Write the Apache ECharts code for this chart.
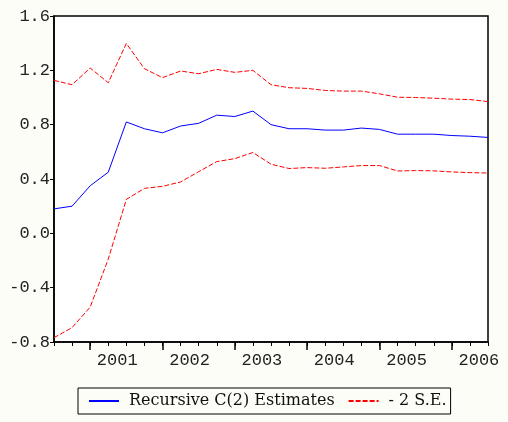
<!DOCTYPE html>
<html>
<head>
<meta charset="utf-8">
<script src="https://cdn.jsdelivr.net/npm/echarts@6/dist/echarts.min.js"></script>
<style>
  html, body { margin: 0; padding: 0; background: #fdfdf7; }
  #chart { width: 508px; height: 422px; }
</style>
</head>
<body>
<div id="chart"></div>
<script>
// Quarterly periods, 2000Q3 .. 2006Q3
const quarters = [
  '2000Q3','2000Q4',
  '2001Q1','2001Q2','2001Q3','2001Q4',
  '2002Q1','2002Q2','2002Q3','2002Q4',
  '2003Q1','2003Q2','2003Q3','2003Q4',
  '2004Q1','2004Q2','2004Q3','2004Q4',
  '2005Q1','2005Q2','2005Q3','2005Q4',
  '2006Q1','2006Q2','2006Q3'
];

// Recursive estimates of coefficient C(2)
const estimates = [
  0.18, 0.20, 0.35, 0.45, 0.82, 0.77, 0.74, 0.79, 0.81, 0.87,
  0.86, 0.90, 0.80, 0.77, 0.77, 0.76, 0.76, 0.775, 0.765, 0.73,
  0.73, 0.73, 0.72, 0.715, 0.706
];

// Upper and lower two-standard-error bands
const upperBand = [
  1.126, 1.094, 1.217, 1.109, 1.398, 1.212, 1.146, 1.195, 1.175, 1.207,
  1.185, 1.200, 1.094, 1.072, 1.067, 1.052, 1.047, 1.047, 1.027, 1.002,
  1.000, 0.995, 0.988, 0.985, 0.970
];
const lowerBand = [
  -0.768, -0.694, -0.543, -0.19, 0.25, 0.331, 0.346, 0.378, 0.454, 0.528,
  0.550, 0.595, 0.509, 0.477, 0.484, 0.479, 0.489, 0.499, 0.499, 0.459,
  0.462, 0.460, 0.452, 0.447, 0.444
];

const yMin = -0.8, yMax = 1.6, yStep = 0.4;
const seriesNames = ['Recursive C(2) Estimates', '- 2 S.E.'];

const axisFont = 'Liberation Mono';
const chart = echarts.init(document.getElementById('chart'), null, { renderer: 'canvas' });

chart.setOption({
  backgroundColor: '#fdfdf7',
  animation: false,
  grid: {
    left: 54, right: 20, top: 16, bottom: 80,
    show: true, backgroundColor: '#ffffff',
    borderColor: '#000000', borderWidth: 1.5
  },
  legend: {
    left: 78, top: 388,
    data: seriesNames,
    selectedMode: false,
    borderColor: '#000000', borderWidth: 1,
    padding: [5, 4, 5, 10],
    itemWidth: 30, itemHeight: 10, itemGap: 13,
    itemStyle: { opacity: 0 },
    textStyle: { fontFamily: 'DejaVu Serif', fontSize: 16, color: '#111', padding: [0, 0, 0, 5] }
  },
  xAxis: [
    {
      type: 'category',
      data: quarters,
      boundaryGap: false,
      position: 'bottom',
      axisLine: { onZero: false, lineStyle: { color: '#000', width: 1.5 } },
      axisTick: { interval: 0, length: 4, lineStyle: { color: '#000', width: 1 } },
      axisLabel: {
        interval: (i, v) => v.endsWith('Q2'),
        formatter: v => v.slice(0, 4),
        align: 'center',
        padding: [0, 0, 0, 18],
        margin: 10,
        fontFamily: axisFont, fontSize: 17, color: '#222'
      },
      splitLine: { show: false }
    },
    {
      // longer ticks at the start of each year
      type: 'category',
      data: quarters,
      boundaryGap: false,
      position: 'bottom',
      offset: 0,
      axisLine: { show: false, onZero: false },
      axisTick: { interval: (i, v) => v.endsWith('Q1'), length: 8, lineStyle: { color: '#000', width: 1.5 } },
      axisLabel: { show: false },
      splitLine: { show: false }
    }
  ],
  yAxis: {
    type: 'value',
    min: yMin, max: yMax, interval: yStep,
    axisLine: { show: true, lineStyle: { color: '#000', width: 1.5 } },
    axisTick: { show: true, length: 4, lineStyle: { color: '#000' } },
    axisLabel: {
      margin: 4,
      formatter: v => v.toFixed(1),
      fontFamily: axisFont, fontSize: 17, color: '#222'
    },
    splitLine: { show: false }
  },
  series: [
    {
      name: seriesNames[0], type: 'line', data: estimates,
      symbol: 'none', lineStyle: { color: '#0000ff', width: 1 },
      itemStyle: { color: '#0000ff' }
    },
    {
      name: seriesNames[1], type: 'line', data: upperBand,
      symbol: 'none', lineStyle: { color: '#ff0000', width: 1, type: [5, 2] },
      itemStyle: { color: '#ff0000' }
    },
    {
      name: seriesNames[1], type: 'line', data: lowerBand,
      symbol: 'none', lineStyle: { color: '#ff0000', width: 1, type: [5, 2] },
      itemStyle: { color: '#ff0000' }
    }
  ]
});
</script>
</body>
</html>
